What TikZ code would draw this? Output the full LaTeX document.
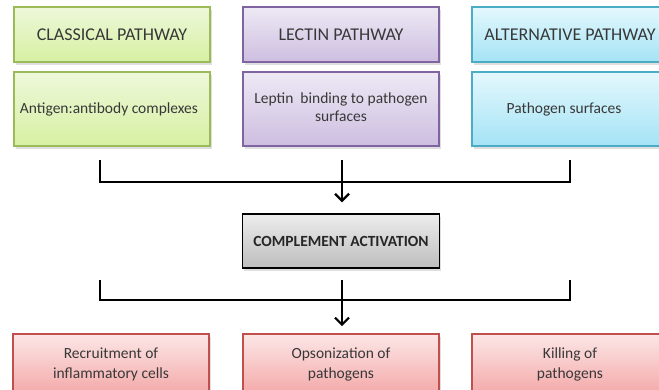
\documentclass[tikz,border=0pt]{standalone}
\usepackage{fontspec}
\setmainfont{Carlito}
\usetikzlibrary{shadows,arrows.meta}

\definecolor{grnB}{HTML}{9BBB59}
\definecolor{grnT}{HTML}{EEF8DA}
\definecolor{grnD}{HTML}{D6F0A2}
\definecolor{purB}{HTML}{8064A2}
\definecolor{purT}{HTML}{EEE9F5}
\definecolor{purD}{HTML}{CDBEE0}
\definecolor{bluB}{HTML}{4BACC6}
\definecolor{bluT}{HTML}{E4F8FD}
\definecolor{bluD}{HTML}{A4E3F5}
\definecolor{gryT}{HTML}{EDEDED}
\definecolor{gryD}{HTML}{BDBDBD}
\definecolor{redB}{HTML}{C0504D}
\definecolor{redT}{HTML}{FCE6E6}
\definecolor{redD}{HTML}{F4A9A9}

\tikzset{
  box/.style={draw, line width=1.6pt, minimum width=196pt, align=center,
    inner sep=0pt, text=black!78,
    drop shadow={shadow xshift=1.5pt, shadow yshift=-2.5pt, opacity=0.25}},
  titlebox/.style={box, minimum height=55pt, font=\fontsize{18}{20}\selectfont},
  bodybox/.style={box, minimum height=74pt, font=\fontsize{15.5}{18}\selectfont},
  outbox/.style={box, minimum height=60pt, font=\fontsize{15.5}{20}\selectfont},
  grn/.style={draw=grnB, top color=grnT, bottom color=grnD},
  pur/.style={draw=purB, top color=purT, bottom color=purD},
  blu/.style={draw=bluB, top color=bluT, bottom color=bluD},
  red/.style={draw=redB, top color=redT, bottom color=redD},
  link/.style={line width=2.6pt, line cap=rect},
  arr/.style={line width=2.2pt, -{Straight Barb[length=7pt, width=14pt, line width=2.2pt]}}
}

\begin{document}
\begin{tikzpicture}[x=1pt, y=-1pt]
  \useasboundingbox (0,0) rectangle (659,389);

  % pathway headers
  \node[titlebox, grn] (clT) at (112,34.5) {CLASSICAL PATHWAY};
  \node[titlebox, pur] (leT) at (341,34.5) {LECTIN PATHWAY};
  \node[titlebox, blu] (alT) at (570,34.5) {ALTERNATIVE PATHWAY};

  % triggers
  \node[bodybox, grn] (clB) at (112,109) {\hspace*{-6pt}Antigen:antibody complexes};
  \node[bodybox, pur] (leB) at (341,109) {\raisebox{6pt}{\begin{tabular}{@{}c@{}}Leptin\ \ binding to pathogen\\[0pt]surfaces\end{tabular}}};
  \node[bodybox, blu] (alB) at (570,109) {\hspace*{-12pt}Pathogen surfaces};

  % central step
  \node[box, minimum width=197pt, minimum height=54pt, draw=black, line width=1.4pt,
        top color=gryT, bottom color=gryD, text=black!85,
        font=\bfseries\fontsize{15.5}{18}\selectfont] (ca) at (341,241) {COMPLEMENT ACTIVATION};

  % outcomes
  \node[outbox, red] (o1) at (111,364) {\begin{tabular}{@{}c@{}}Recruitment of\\inflammatory cells\end{tabular}};
  \node[outbox, red] (o2) at (341,364) {\begin{tabular}{@{}c@{}}Opsonization of\\pathogens\end{tabular}};
  \node[outbox, red] (o3) at (570,364) {\begin{tabular}{@{}c@{}}Killing of\\pathogens\end{tabular}};

  % upper collector
  \coordinate (j1) at (342,182);
  \draw[link] (100,161) |- (j1) -| (570,161);
  \draw[link] (342,161) -- (j1);
  \draw[arr] (j1) -- ([yshift=11pt]ca.north -| j1);

  % lower collector
  \coordinate (j2) at (342,300);
  \draw[link] (100,281) |- (j2) -| (570,281);
  \draw[link] (342,281) -- (j2);
  \draw[arr] (j2) -- ([yshift=7pt]o2.north -| j2);
\end{tikzpicture}
\end{document}
